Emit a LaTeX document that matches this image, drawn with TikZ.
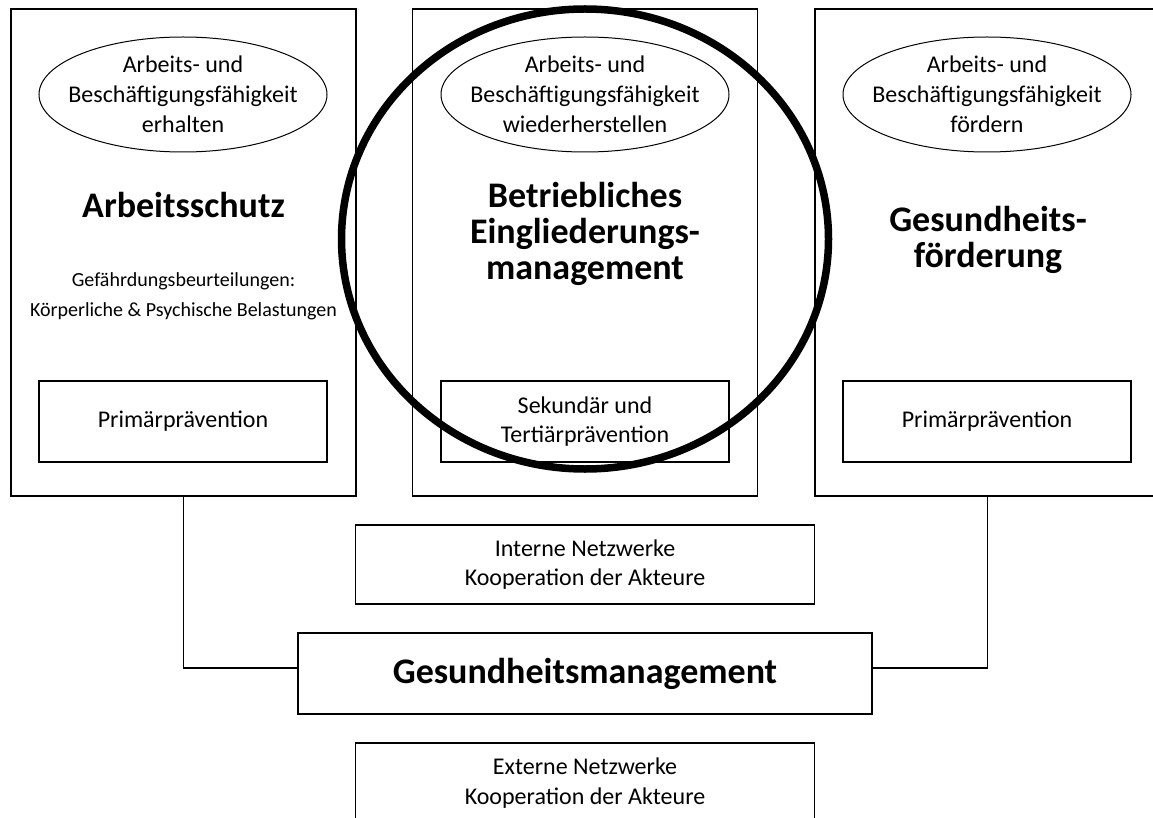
\documentclass[tikz,border=0pt]{standalone}
\usepackage{fontspec}
\setmainfont{Carlito}
\usetikzlibrary{shapes.geometric}

\begin{document}
\begin{tikzpicture}[x=1pt,y=-1pt,
  pillar/.style={rectangle,draw,line width=1.2pt,minimum width=345pt,minimum height=487pt,inner sep=0pt},
  goal/.style={ellipse,draw,line width=1pt,minimum width=288pt,minimum height=115pt,inner sep=0pt},
  goaltext/.style={align=center,inner sep=0pt,font=\fontsize{24}{30}\selectfont},
  prevbox/.style={rectangle,draw,line width=1.2pt,minimum width=288pt,minimum height=81pt,inner sep=0pt,align=center,font=\fontsize{24}{29}\selectfont},
  netbox/.style={rectangle,draw,line width=1.2pt,minimum width=459pt,minimum height=80pt,inner sep=0pt,align=center,font=\fontsize{24}{29}\selectfont},
  headline/.style={align=center,inner sep=0pt,font=\fontsize{36}{36}\selectfont\bfseries},
  connector/.style={draw,line width=1.2pt}]
\useasboundingbox (0,0) rectangle (1153,818);
\node (schutz)   at (183.5,252.5) [pillar] {};
\node (bem)      at (585,252.5)   [pillar] {};
\node (foerder)  at (987.5,252.5) [pillar] {};
\node (goalL)    at (183,94.5)  [goal] {};
\node (goalM)    at (585,94.5)  [goal] {};
\node (goalR)    at (987,94.5)  [goal] {};
\node (goalLtxt) at (goalL) [goaltext] {Arbeits- und\\Beschäftigungsfähigkeit\\erhalten};
\node (goalMtxt) at (goalM) [goaltext] {Arbeits- und\\Beschäftigungsfähigkeit\\wiederherstellen};
\node (goalRtxt) at (goalR) [goaltext] {Arbeits- und\\Beschäftigungsfähigkeit\\fördern};
\node (titleL)   at (183.5,205) [headline] {Arbeitsschutz};
\node (titleM)   at (585,234)   [headline] {Betriebliches\\Eingliederungs-\\management};
\node (titleR)   at (988,240)   [headline] {Gesundheits-\\förderung};
\node (gefahr)   at (183.5,296) [align=center,font=\fontsize{20}{30}\selectfont] {Gefährdungsbeurteilungen:\\Körperliche \& Psychische Belastungen};
\node (prevL)    at (183,421.5) [prevbox] {Primärprävention};
\node (prevM)    at (585,421.5) [prevbox] {Sekundär und\\Tertiärprävention};
\node (prevR)    at (987,421.5) [prevbox] {Primärprävention};
\node (intern)   at (585,564.5) [netbox,minimum height=79pt] {Interne Netzwerke\\Kooperation der Akteure};
\node (ghm)      at (585,673.5) [rectangle,draw,line width=1.2pt,minimum width=574pt,minimum height=81pt,font=\fontsize{36}{36}\selectfont\bfseries] {Gesundheitsmanagement};
\node (extern)   at (585,783)   [netbox,font=\fontsize{24}{30}\selectfont] {Externe Netzwerke\\Kooperation der Akteure};
\draw [connector] (schutz.south)  |- ([yshift=5.5pt]ghm.west);
\draw [connector] (foerder.south) |- ([yshift=5.5pt]ghm.east);
% focus on BEM
\node (focus)    at (585,239) [ellipse,draw,line width=7.5pt,minimum width=487pt,minimum height=460pt,inner sep=0pt] {};
\end{tikzpicture}
\end{document}
